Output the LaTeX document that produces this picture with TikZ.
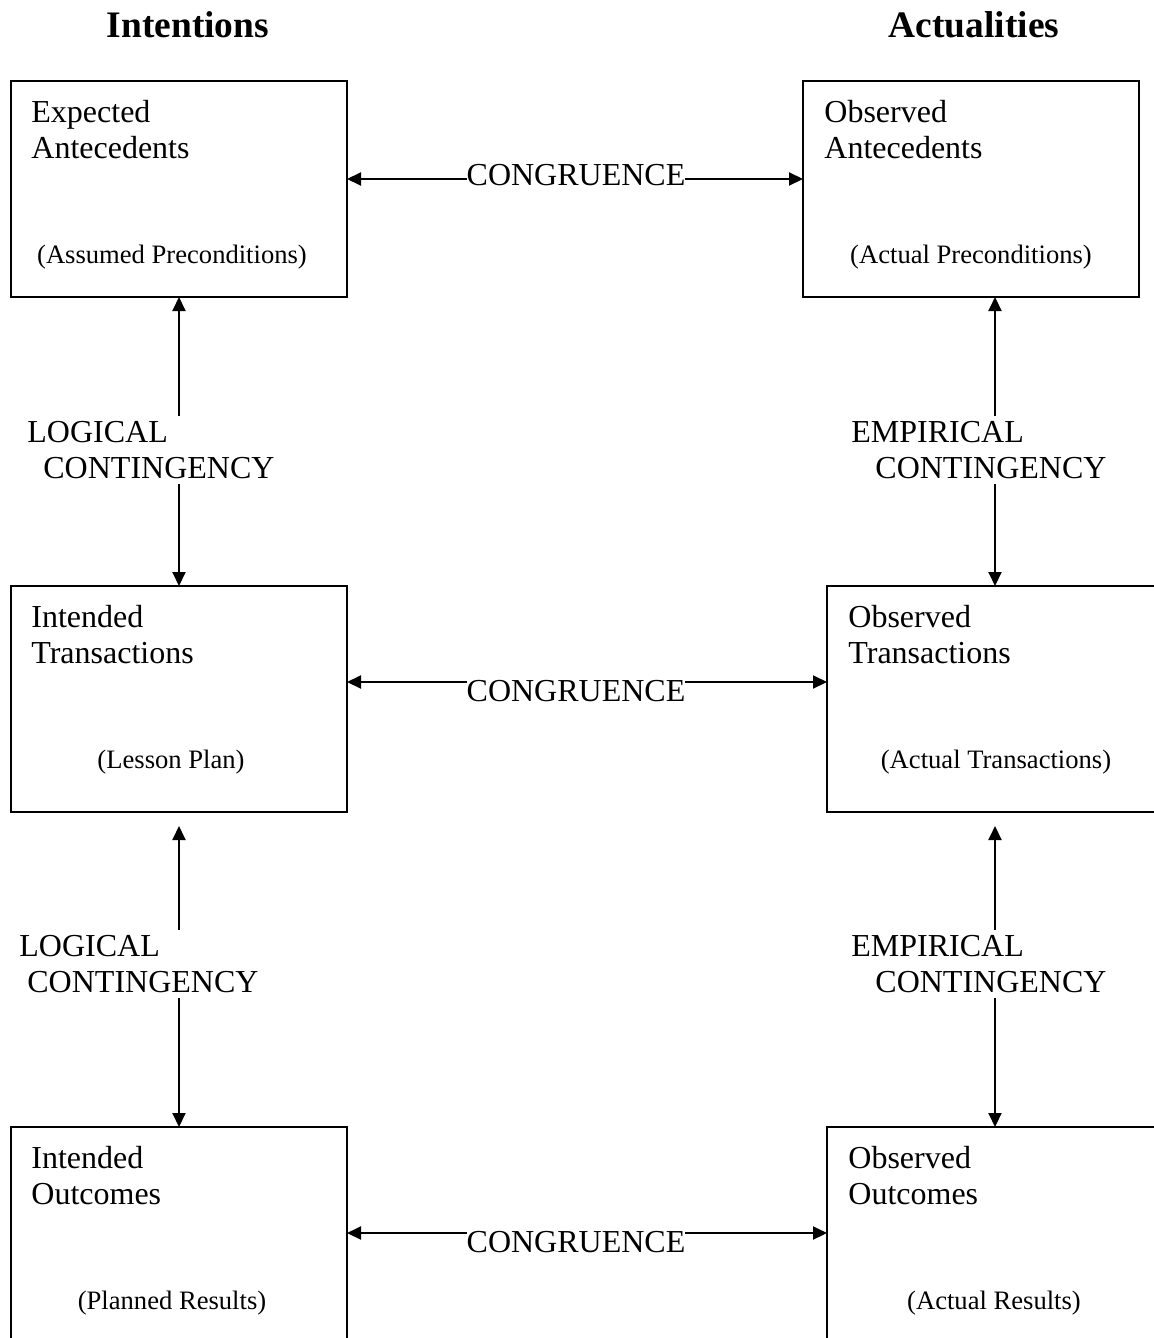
\documentclass[tikz,border=0pt]{standalone}
\usepackage{fontspec}
\setmainfont{Liberation Serif}
\usetikzlibrary{arrows.meta, positioning}

\begin{document}
\begin{tikzpicture}[x=0.5pt, y=-0.5pt,
    stage/.style={draw, line width=1.3pt, inner sep=0pt, outer sep=0pt, minimum width=168pt},
    heading/.style={anchor=north west, inner sep=0pt, align=left, font=\fontsize{16}{18}\selectfont},
    note/.style={anchor=base, inner sep=0pt, font=\fontsize{13.3}{16}\selectfont},
    link/.style={line width=1pt, {Triangle[length=7pt,width=6.5pt]}-{Triangle[length=7pt,width=6.5pt]}},
    relation/.style={fill=white, inner xsep=0pt, inner ysep=2.5pt, align=left, anchor=north west, font=\fontsize{16}{18}\selectfont},
    agree/.style={fill=white, inner sep=0pt, font=\fontsize{16}{18}\selectfont},
    title/.style={inner sep=0pt, font=\bfseries\fontsize{18.7}{22}\selectfont}]
          \useasboundingbox (0,0) rectangle (1154,1338);
          \clip (0,0) rectangle (1154,1338);
          % Column titles
          \node[title] (intent) at (188,25) {Intentions};
          \node[title] (actual) at (974,25) {Actualities};
          % Intentions
          \node[stage, minimum height=108pt] (ea) at (179,189) {};
          \node[stage, minimum height=113pt] (it) at (179,699) {};
          \node[stage, minimum height=108pt] (io) at (179,1235) {};
          % Actualities
          \node[stage, minimum height=108pt] (oa) at (971,189) {};
          \node[stage, minimum height=113pt] (ot) at (995,699) {};
          \node[stage, minimum height=108pt] (oo) at (995,1235) {};
          % Box texts
          \node[heading] (ea-t) at ([xshift=10pt, yshift=-9.5pt]ea.north west) {Expected\\Antecedents};
          \node[heading] (it-t) at ([xshift=10pt, yshift=-9.5pt]it.north west) {Intended\\Transactions};
          \node[heading] (io-t) at ([xshift=10pt, yshift=-9.5pt]io.north west) {Intended\\Outcomes};
          \node[heading] (oa-t) at ([xshift=10.5pt, yshift=-9.5pt]oa.north west) {Observed\\Antecedents};
          \node[heading] (ot-t) at ([xshift=10.5pt, yshift=-9.5pt]ot.north west) {Observed\\Transactions};
          \node[heading] (oo-t) at ([xshift=10.5pt, yshift=-9.5pt]oo.north west) {Observed\\Outcomes};
          \node[note] (ea-n) at ([xshift=80.5pt, yshift=-91pt]ea.north west) {(Assumed Preconditions)};
          \node[note] (it-n) at ([xshift=80pt, yshift=-91pt]it.north west) {(Lesson Plan)};
          \node[note] (io-n) at ([xshift=80.5pt, yshift=-91pt]io.north west) {(Planned Results)};
          \node[note] (oa-n) at ([xshift=84pt, yshift=-91pt]oa.north west) {(Actual Preconditions)};
          \node[note] (ot-n) at ([xshift=84.5pt, yshift=-91pt]ot.north west) {(Actual Transactions)};
          \node[note] (oo-n) at ([xshift=83.5pt, yshift=-91pt]oo.north west) {(Actual Results)};
          % Congruence
          \draw[link] ([yshift=5pt]ea.east) -- ([yshift=5pt]oa.west);
          \draw[link] ([yshift=8.5pt]it.east) -- ([yshift=8.5pt]ot.west);
          \draw[link] ([yshift=1pt]io.east) -- ([yshift=1pt]oo.west);
          \node[agree] (cg1) at (576,175) {CONGRUENCE};
          \node[agree] (cg2) at (576,691) {CONGRUENCE};
          \node[agree] (cg3) at (576,1242) {CONGRUENCE};
          % Contingency
          \draw[link] (ea.south) -- (it.north);
          \draw[link] ([yshift=-7pt]it.south) -- (io.north);
          \draw[link] ([xshift=12pt]oa.south) -- (ot.north);
          \draw[link] ([yshift=-7pt]ot.south) -- (oo.north);
          \node[relation] (lc1) at (27,416) {LOGICAL\\\hspace*{8pt}CONTINGENCY};
          \node[relation] (lc2) at (19,930) {LOGICAL\\\hspace*{4pt}CONTINGENCY};
          \node[relation] (ec1) at (851,416) {EMPIRICAL\\\hspace*{12pt}CONTINGENCY};
          \node[relation] (ec2) at (851,930) {EMPIRICAL\\\hspace*{12pt}CONTINGENCY};
        \end{tikzpicture}
\end{document}
